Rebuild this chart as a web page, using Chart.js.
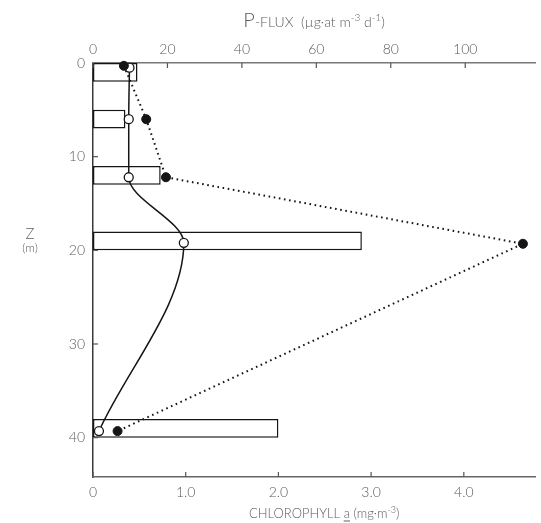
<!DOCTYPE html>
<html>
<head>
<meta charset="utf-8">
<script src="https://cdn.jsdelivr.net/npm/chart.js@4.4.1/dist/chart.umd.min.js"></script>
<style>
  html, body { margin: 0; padding: 0; background: #fff; }
  #wrap { width: 541px; height: 523px; }
</style>
</head>
<body>
<div id="wrap"><canvas id="c" width="541" height="523"></canvas></div>
<script>
// Sampled layers: centre depth (m) of each 2 m layer and its chlorophyll a (mg m-3)
const layerCenters = [1, 6, 12, 19, 39];
const chlorophyll = [0.48, 0.35, 0.73, 2.9, 2.0];

// P-flux profiles (µg-at m-3 d-1) against depth (m)
const openDepths = [0.5, 6, 12.2, 19.2, 39.3];
const openFlux = [9.8, 9.6, 9.6, 24.4, 1.6];
const filledDepths = [0.3, 6, 12.2, 19.3, 39.3];
const filledFlux = [8.3, 14.3, 19.6, 115.5, 6.6];

// Axis ticks and extents
const depthTicks = [0, 10, 20, 30, 40];
const fluxTicks = [0, 20, 40, 60, 80, 100];
const chlTicks = [0, 1, 2, 3, 4];
const depthMax = 44.2;
const fluxMax = 118.8;
const chlMax = 4.77;

const ink = '#151515';
const labelGrey = '#5c5c5c';
const fam = 'Lato, "DejaVu Sans", sans-serif';
const labelFont = { family: fam, size: 14, weight: '300' };

function line(ctx, x1, y1, x2, y2) {
  ctx.beginPath(); ctx.moveTo(x1, y1); ctx.lineTo(x2, y2); ctx.stroke();
}

// Draws a row of text runs (different sizes / superscripts) centred on cx
function drawRuns(ctx, runs, cx, baseline) {
  let total = 0;
  runs.forEach(r => { ctx.font = r.font; r.w = ctx.measureText(r.text).width; total += r.w; });
  let x = cx - total / 2;
  ctx.textAlign = 'left';
  ctx.textBaseline = 'alphabetic';
  runs.forEach(r => {
    ctx.font = r.font;
    ctx.fillStyle = r.color || labelGrey;
    ctx.fillText(r.text, x, baseline + (r.dy || 0));
    if (r.underline) {
      ctx.strokeStyle = labelGrey; ctx.lineWidth = 1;
      line(ctx, x, baseline + 3, x + r.w, baseline + 3);
    }
    x += r.w;
  });
}

// Inward tick marks and the axis titles
const axisDecor = {
  id: 'axisDecor',
  afterDraw(chart) {
    const { ctx, chartArea: a, scales } = chart;
    ctx.save();
    ctx.lineWidth = 1.2;
    ctx.strokeStyle = '#555';
    const len = 5;
    fluxTicks.forEach(v => { const x = scales.xp.getPixelForValue(v); line(ctx, x, a.top, x, a.top + len); });
    chlTicks.forEach(v => { const x = scales.xc.getPixelForValue(v); line(ctx, x, a.bottom, x, a.bottom - len); });
    depthTicks.slice(1).forEach(v => { const y = scales.y.getPixelForValue(v); line(ctx, a.left, y, a.left + len, y); });

    const cx = (a.left + a.right) / 2;
    drawRuns(ctx, [
      { text: 'P', font: `300 20px ${fam}` },
      { text: '-FLUX  ', font: `300 14px ${fam}` },
      { text: '(\u00B5g\u00B7at m', font: `300 14px ${fam}` },
      { text: '-3', font: `300 10px ${fam}`, dy: -6 },
      { text: ' d', font: `300 14px ${fam}` },
      { text: '-1', font: `300 10px ${fam}`, dy: -6 },
      { text: ')', font: `300 14px ${fam}` }
    ], cx, a.top - 36);

    drawRuns(ctx, [
      { text: 'CHLOROPHYLL ', font: `300 13px ${fam}` },
      { text: 'a', font: `300 13px ${fam}`, underline: true },
      { text: ' (mg\u00B7m', font: `300 13px ${fam}` },
      { text: '-3', font: `300 9px ${fam}`, dy: -5 },
      { text: ')', font: `300 13px ${fam}` }
    ], cx + 10, a.bottom + 41);

    // Depth axis title
    ctx.fillStyle = labelGrey;
    ctx.textAlign = 'center';
    ctx.textBaseline = 'middle';
    ctx.font = `300 15px ${fam}`;
    const zy = scales.y.getPixelForValue(18.3);
    ctx.fillText('Z', 30, zy);
    ctx.font = `300 12px ${fam}`;
    ctx.fillText('(m)', 30, zy + 14);
    ctx.restore();
  }
};

const hiddenGrid = { display: false, drawTicks: false, offset: false };

new Chart(document.getElementById('c'), {
  type: 'bar',
  data: {
    datasets: [
      {
        type: 'line',
        label: 'P-flux (filled)',
        data: filledDepths.map((d, i) => ({ x: filledFlux[i], y: d })),
        xAxisID: 'xp', yAxisID: 'y', indexAxis: 'y',
        borderColor: ink, borderWidth: 2, borderDash: [1.6, 3.6],
        tension: 0,
        pointRadius: 4.5, pointBackgroundColor: ink, pointBorderColor: ink, pointBorderWidth: 1,
        clip: false, order: 0
      },
      {
        type: 'line',
        label: 'P-flux (open)',
        data: openDepths.map((d, i) => ({ x: openFlux[i], y: d })),
        xAxisID: 'xp', yAxisID: 'y', indexAxis: 'y',
        borderColor: ink, borderWidth: 1.5,
        cubicInterpolationMode: 'monotone',
        pointRadius: 4.5, pointBackgroundColor: '#fff', pointBorderColor: ink, pointBorderWidth: 1.3,
        clip: false, order: 1
      },
      {
        type: 'bar',
        label: 'Chlorophyll a',
        data: layerCenters.map((d, i) => ({ x: chlorophyll[i], y: d })),
        xAxisID: 'xc', yAxisID: 'y', indexAxis: 'y',
        backgroundColor: '#fff', borderColor: ink, borderWidth: 1.5, borderSkipped: false,
        grouped: false, barPercentage: 0.4, categoryPercentage: 1,
        order: 2
      }
    ]
  },
  options: {
    responsive: false,
    animation: false,
    devicePixelRatio: 1,
    layout: { padding: 0 },
    plugins: { legend: { display: false }, tooltip: { enabled: false } },
    scales: {
      y: {
        type: 'linear', axis: 'y', position: 'left', reverse: true, offset: false,
        min: 0, max: depthMax,
        afterBuildTicks: s => { s.ticks = depthTicks.map(v => ({ value: v })); },
        afterFit: s => { s.width = 93; },
        grid: hiddenGrid,
        border: { display: true, color: '#3a3a3a', width: 1.5 },
        ticks: { color: labelGrey, font: labelFont, padding: 8, autoSkip: false, callback: v => String(v) }
      },
      xp: {
        type: 'linear', axis: 'x', position: 'top', offset: false,
        min: 0, max: fluxMax,
        afterBuildTicks: s => { s.ticks = fluxTicks.map(v => ({ value: v })); },
        afterFit: s => { s.height = 63; },
        grid: hiddenGrid,
        border: { display: true, color: '#777', width: 1.5 },
        ticks: { color: labelGrey, font: labelFont, padding: 5, autoSkip: false, maxRotation: 0, callback: v => String(v) }
      },
      xc: {
        type: 'linear', axis: 'x', position: 'bottom', offset: false,
        min: 0, max: chlMax,
        afterBuildTicks: s => { s.ticks = chlTicks.map(v => ({ value: v })); },
        afterFit: s => { s.height = 46; },
        grid: hiddenGrid,
        border: { display: true, color: '#666', width: 1.5 },
        ticks: { color: labelGrey, font: labelFont, padding: 7, autoSkip: false, maxRotation: 0,
                 callback: v => (v === 0 ? '0' : v.toFixed(1)) }
      }
    }
  },
  plugins: [axisDecor]
});
</script>
</body>
</html>
